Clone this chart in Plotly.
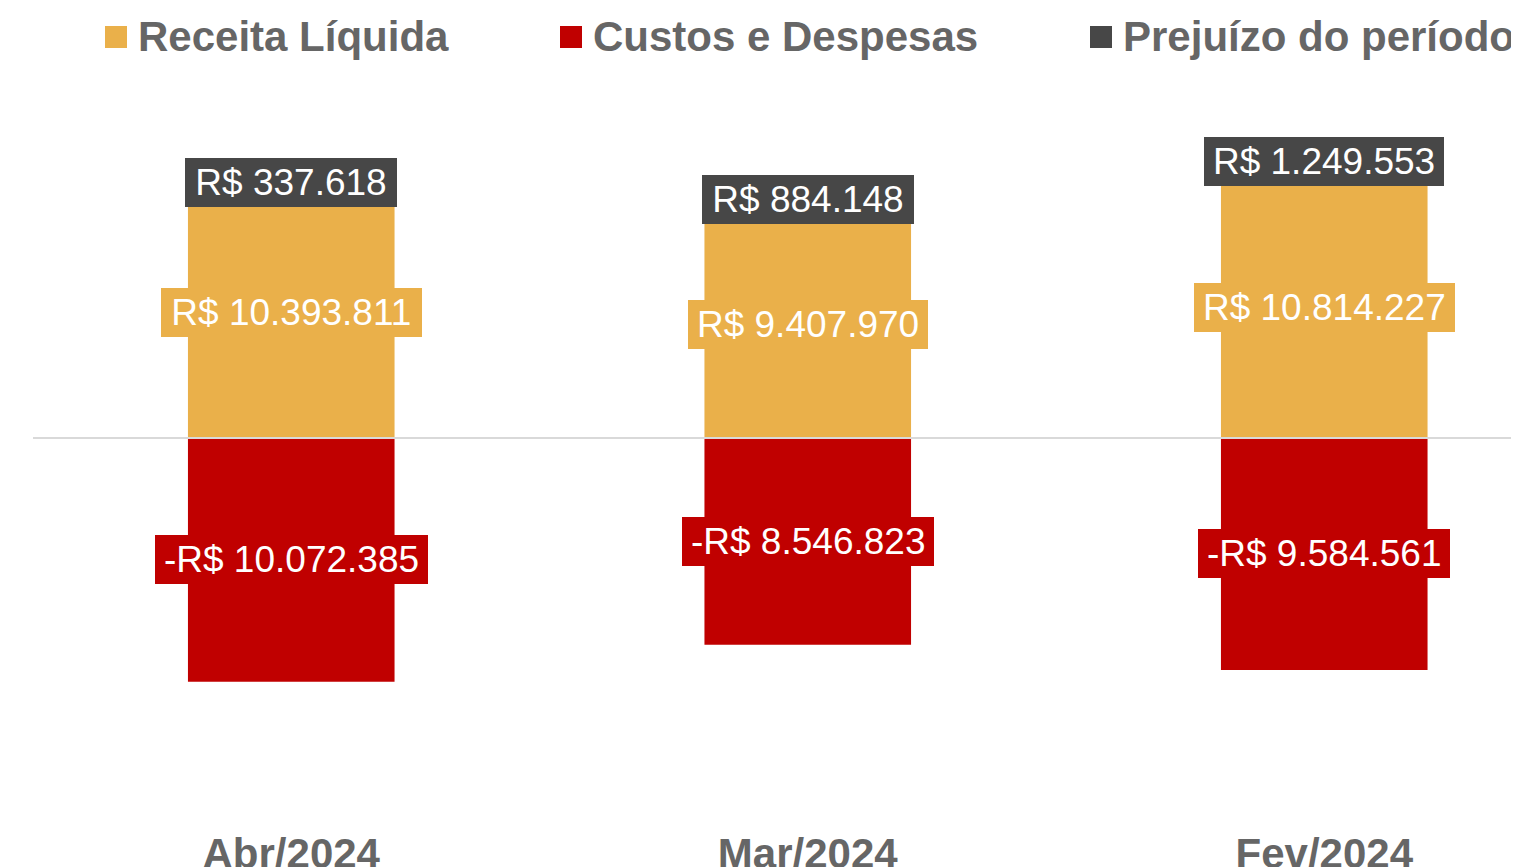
import plotly.graph_objects as go

categories = ["Abr/2024", "Mar/2024", "Fev/2024"]
receita = [10393811, 9407970, 10814227]
custos = [-10072385, -8546823, -9584561]
prejuizo = [337618, 884148, 1249553]

series_names = ["Receita Líquida", "Custos e Despesas", "Prejuízo do período"]
colors = ["#EAB04A", "#C00000", "#474747"]
TEXT_GRAY = "#666666"
FONT = "Liberation Sans, Arial, sans-serif"

# the page body adds an 8px margin, so the figure is drawn 8px smaller
W, H = 1511, 859
ML, MR, MT, MB = 25, 0, 72, 42
PW, PH = W - ML - MR, H - MT - MB
ZERO_PX = 430          # zero line position inside figure (px from top)
PX_PER_UNIT = 24.2 / 1e6
CAT_PX = 516.5         # pixels per category

LABEL_SIZE = 37
CHAR_W = {"R": 0.722, "$": 0.556, " ": 0.278, ".": 0.278, "-": 0.333}


def fmt(v):
    s = f"{abs(v):,}".replace(",", ".")
    return ("-R$ " if v < 0 else "R$ ") + s


def text_w(s):
    return sum(CHAR_W.get(ch, 0.556) for ch in s) * LABEL_SIZE


fig = go.Figure()
fig.add_trace(go.Bar(x=categories, y=receita, name=series_names[0],
                     marker=dict(color=colors[0], line=dict(width=0)), width=0.4))
fig.add_trace(go.Bar(x=categories, y=prejuizo, base=receita, name=series_names[2],
                     marker=dict(color=colors[2], line=dict(width=0)), width=0.4))
fig.add_trace(go.Bar(x=categories, y=custos, name=series_names[1],
                     marker=dict(color=colors[1], line=dict(width=0)), width=0.4))

annotations = []
for i, c in enumerate(categories):
    for val, yc, col in [
        (receita[i], receita[i] / 2, colors[0]),
        (prejuizo[i], receita[i] + prejuizo[i] / 2, colors[2]),
        (custos[i], custos[i] / 2, colors[1]),
    ]:
        t = fmt(val)
        annotations.append(dict(
            x=c, y=yc, xref="x", yref="y", text=t, showarrow=False,
            font=dict(family=FONT, size=LABEL_SIZE, color="white"),
            bgcolor=col, borderpad=4, borderwidth=0,
            width=max(text_w(t) + 10, 204), align="center",
            xanchor="center", yanchor="middle"))


def px_x(p):
    return (p - ML) / PW


def px_y(p):
    return 1 - (p - MT) / PH


shapes = [dict(type="line", xref="paper", yref="y", x0=0, x1=1, y0=0, y1=0,
               line=dict(color="#D9D9D9", width=2), layer="above")]
legend_marker_x = [97, 552, 1082]
for k, xm in enumerate(legend_marker_x):
    shapes.append(dict(type="rect", xref="paper", yref="paper",
                       x0=px_x(xm), x1=px_x(xm + 22), y0=px_y(40), y1=px_y(18),
                       fillcolor=colors[k], line=dict(width=0)))
    annotations.append(dict(x=px_x(xm + 31), y=px_y(29), xref="paper", yref="paper",
                            text=series_names[k], showarrow=False,
                            xanchor="left", yanchor="middle",
                            font=dict(family=FONT, size=42, color=TEXT_GRAY, weight="bold")))

y_top = (ZERO_PX - MT) / PX_PER_UNIT
y_bot = -(MT + PH - ZERO_PX) / PX_PER_UNIT

fig.update_layout(
    template="none",
    width=W, height=H,
    margin=dict(l=ML, r=MR, t=MT, b=MB, autoexpand=False),
    barmode="overlay",
    showlegend=False,
    plot_bgcolor="white", paper_bgcolor="white",
    annotations=annotations, shapes=shapes,
    xaxis=dict(range=[-0.5, -0.5 + PW / CAT_PX], showgrid=False, showline=False,
               zeroline=False, automargin=False,
               ticks="", tickfont=dict(family=FONT, size=42, color=TEXT_GRAY, weight="bold"),
               fixedrange=True),
    yaxis=dict(range=[y_bot, y_top], showgrid=False, showticklabels=False,
               zeroline=False, automargin=False, ticks="", fixedrange=True),
)

fig.write_html("out.html")
